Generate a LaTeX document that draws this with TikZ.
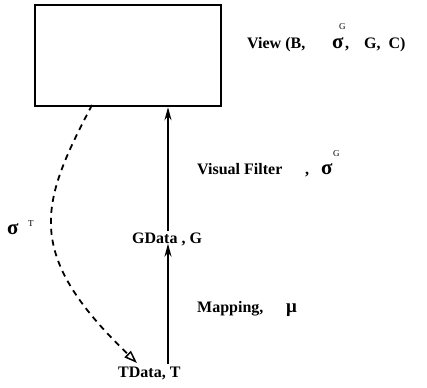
\documentclass[tikz,border=0pt]{standalone}
\usepackage{fontspec}
\setmainfont{Liberation Serif}
\usetikzlibrary{arrows.meta}
\begin{document}
\begin{tikzpicture}[x=1pt,y=-1pt,
  lbl/.style={anchor=base west,inner sep=0pt,font=\fontsize{16}{19}\selectfont\bfseries},
  sig/.style={anchor=base west,inner sep=0pt,font=\fontsize{21}{24}\selectfont\bfseries},
  sup/.style={anchor=base west,inner sep=0pt,font=\fontsize{9}{10}\selectfont},
  solidarrow/.style={line width=2pt,-{Stealth[length=13pt,width=7pt]}},
  dasharrow/.style={line width=1.8pt,dash pattern=on 6pt off 5pt,-{Triangle[open,length=13pt,width=9pt,line width=1.5pt]}}]
\useasboundingbox (0,0) rectangle (427,387);
\node[draw,line width=2.2pt,minimum width=186pt,minimum height=101pt,anchor=north west,inner sep=0pt] (view) at (34,4) {};
% View label
\node[lbl] (vlab1) at (247,49) {View (B,};
\node[sig] (vsig) at (332,49) {σ};
\node[lbl] (vcom) at (345,49) {,};
\node[sup] (vsup) at (339,30) {G};
\node[lbl] (vlab2) at (364,49) {G,~~C)};
% nodes along axis
\node[lbl] (gdata) at (132,243) {GData , G};
\node[lbl] (tdata) at (118,377) {TData, T};
\coordinate (ax) at (168,0);
% Visual filter label
\node[lbl] (vf) at (197,175) {Visual Filter};
\node[lbl] (vfc) at (305,175) {,};
\node[sig] (vfsig) at (321,175) {σ};
\node[sup] (vfsup) at (333,157) {G};
% mapping
\node[lbl] (map) at (197,312) {Mapping,};
\node[lbl,font=\fontsize{19}{22}\selectfont\bfseries] (mu) at (286,312) {μ};
% sigma T
\node[sig] (st) at (7,234) {σ};
\node[sup] (stsup) at (28,226) {T};
% connectors
\draw[solidarrow] ([yshift=2pt]tdata.north -| ax) -- ([yshift=2pt]gdata.south -| ax);
\draw[solidarrow] ([yshift=1pt]gdata.north -| ax) -- (view.south -| ax);
\coordinate (dstart) at (92,105);
\coordinate (dend) at (137,363);
\draw[dasharrow] (dstart) .. controls (40,204) and (23,253) .. (dend);
\end{tikzpicture}
\end{document}
